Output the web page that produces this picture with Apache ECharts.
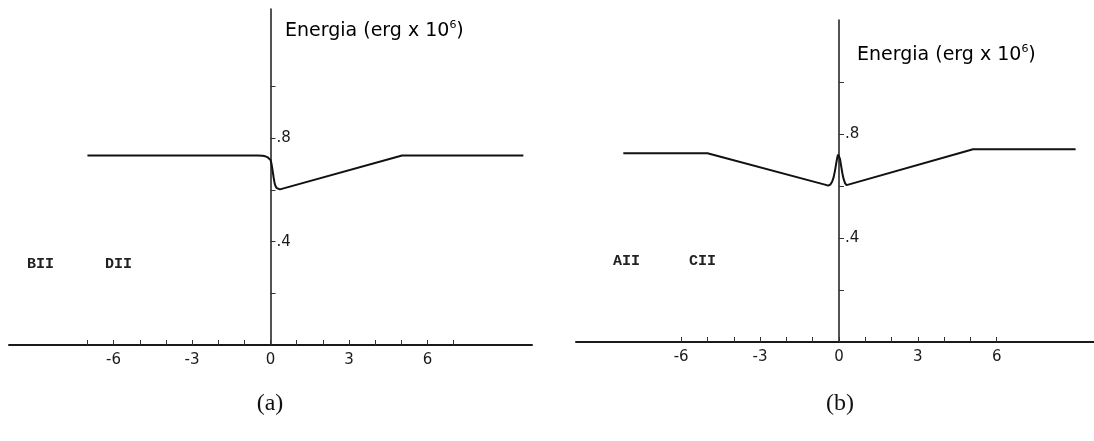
<!DOCTYPE html>
<html>
<head>
<meta charset="utf-8">
<script src="https://cdn.jsdelivr.net/npm/echarts@6/dist/echarts.min.js"></script>
<style>
html,body{margin:0;padding:0;background:#fff;}
#chart{width:1094px;height:441px;}
</style>
</head>
<body>
<div id="chart"></div>
<script>
// Panel (a): BII / DII
const xA = [-7, -0.5, -0.3, -0.2, -0.12, -0.05, 0, 0.03, 0.06, 0.09, 0.12, 0.15, 0.19, 0.24, 0.3, 0.36, 5.03, 9.67];
const yA = [0.733, 0.733, 0.732, 0.730, 0.727, 0.722, 0.716, 0.705, 0.688, 0.668, 0.648, 0.630, 0.615, 0.607, 0.603, 0.602, 0.733, 0.733];
// Panel (b): AII / CII
const xB = [-8.2, -5.0, -0.5, -0.41, -0.33, -0.26, -0.2, -0.15, -0.1, -0.06, -0.03, 0, 0.04, 0.08, 0.13, 0.18, 0.23, 0.29, 0.36, 5.1, 9.0];
const yB = [0.727, 0.727, 0.605, 0.602, 0.606, 0.617, 0.635, 0.66, 0.69, 0.712, 0.722, 0.72, 0.705, 0.68, 0.65, 0.627, 0.612, 0.604, 0.603, 0.742, 0.742];

const xTicksA = [-7,-6,-5,-4,-3,-2,-1,0,1,2,3,4,5,6,7];
const xTicksB = [-6,-5,-4,-3,-2,-1,0,1,2,3,4,5,6];
const xLabels = [-6,-3,0,3,6];
const yTicks = [0.2,0.4,0.6,0.8,1.0];
const yLabels = [0.4,0.8];

const zip = (xs, ys) => xs.map((x, i) => [x, ys[i]]);

const chart = echarts.init(document.getElementById('chart'));

const GA = {left: 9, width: 523, top: 9, height: 336, xmin: -10, xmax: 10, ymax: 1.3};
const GB = {left: 576, width: 518, top: 20, height: 322, xmin: -10, xmax: 9.7, ymax: 1.24};
const zeroOffset = g => -g.width * (0 - g.xmin) / (g.xmax - g.xmin);

function xAxisCfg(i, g, ticks) {
  return {
    gridIndex: i, type: 'value', min: g.xmin, max: g.xmax,
    axisLine: {onZero: false, lineStyle: {color: '#1a1a1a', width: 2}},
    splitLine: {show: false},
    axisTick: {show: true, inside: true, length: 5, customValues: ticks, lineStyle: {color: '#333', width: 1}},
    axisLabel: {customValues: xLabels, margin: 8, fontSize: 15, color: '#1a1a1a', fontFamily: 'DejaVu Sans',
      formatter: v => String(Math.round(v))}
  };
}
function yAxisCfg(i, g) {
  return {
    gridIndex: i, type: 'value', min: 0, max: g.ymax, offset: zeroOffset(g),
    axisLine: {show: true, onZero: false, lineStyle: {color: '#1a1a1a', width: 1.5}},
    splitLine: {show: false},
    axisTick: {show: true, inside: true, length: 5, customValues: yTicks, lineStyle: {color: '#333', width: 1}},
    axisLabel: {inside: true, customValues: yLabels, margin: 6, fontSize: 15, color: '#1a1a1a', fontFamily: 'DejaVu Sans',
      formatter: v => '.' + Math.round(v * 10)}
  };
}

const lineStyle = {color: '#111', width: 2};
const titleRich = {
  a: {fontSize: 19, fontFamily: 'DejaVu Sans', color: '#111'},
  s: {fontSize: 11, fontFamily: 'DejaVu Sans', color: '#111', verticalAlign: 'top', padding: [0, 0, 12, 0]}
};
const smallFont = 'bold 15px "Liberation Mono"';

chart.setOption({
  animation: false,
  grid: [
    {left: GA.left, width: GA.width, top: GA.top, height: GA.height},
    {left: GB.left, width: GB.width, top: GB.top, height: GB.height}
  ],
  xAxis: [xAxisCfg(0, GA, xTicksA), xAxisCfg(1, GB, xTicksB)],
  yAxis: [yAxisCfg(0, GA), yAxisCfg(1, GB)],
  series: [
    {type: 'line', xAxisIndex: 0, yAxisIndex: 0, data: zip(xA, yA), showSymbol: false, smooth: false, lineStyle: lineStyle},
    {type: 'line', xAxisIndex: 1, yAxisIndex: 1, data: zip(xB, yB), showSymbol: false, smooth: false, lineStyle: lineStyle}
  ],
  graphic: [
    {type: 'text', x: 285, y: 31, style: {text: '{a|Energia (erg x 10}{s|6}{a|)}', rich: titleRich, verticalAlign: 'middle'}},
    {type: 'text', x: 857, y: 55, style: {text: '{a|Energia (erg x 10}{s|6}{a|)}', rich: titleRich, verticalAlign: 'middle'}},
    {type: 'text', x: 27, y: 264, style: {text: 'BII', font: smallFont, fill: '#222', verticalAlign: 'middle'}},
    {type: 'text', x: 105, y: 264, style: {text: 'DII', font: smallFont, fill: '#222', verticalAlign: 'middle'}},
    {type: 'text', x: 613, y: 261, style: {text: 'AII', font: smallFont, fill: '#222', verticalAlign: 'middle'}},
    {type: 'text', x: 689, y: 261, style: {text: 'CII', font: smallFont, fill: '#222', verticalAlign: 'middle'}},
    {type: 'text', x: 270, y: 404, style: {text: '(a)', font: '24px "Liberation Serif"', fill: '#111', align: 'center', verticalAlign: 'middle'}},
    {type: 'text', x: 840, y: 404, style: {text: '(b)', font: '24px "Liberation Serif"', fill: '#111', align: 'center', verticalAlign: 'middle'}}
  ]
});
</script>
</body>
</html>
